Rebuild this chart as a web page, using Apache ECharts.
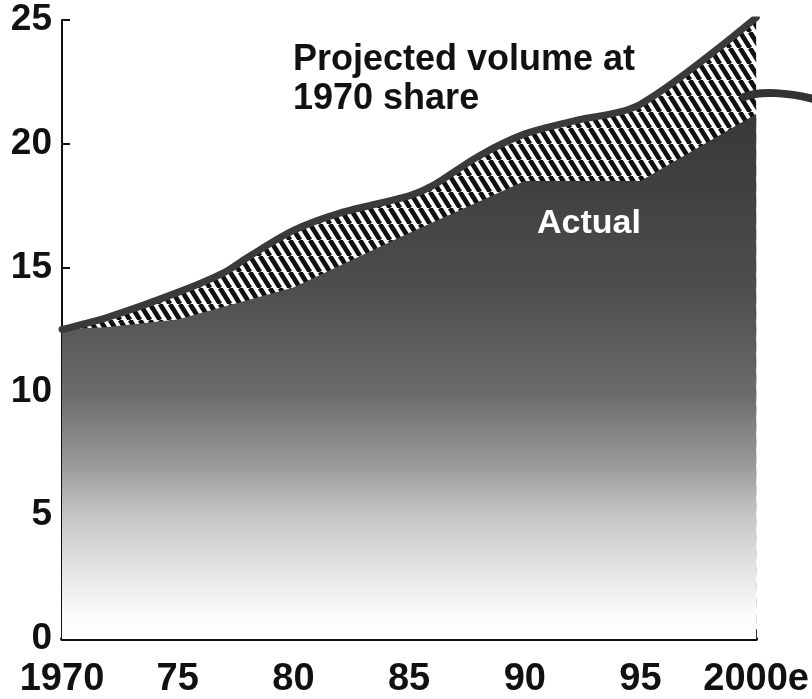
<!DOCTYPE html>
<html>
<head>
<meta charset="utf-8">
<script src="https://cdn.jsdelivr.net/npm/echarts@6/dist/echarts.min.js"></script>
<style>
html,body{margin:0;padding:0;background:#fff;}
#chart{width:812px;height:699px;}
</style>
</head>
<body>
<div id="chart"></div>
<script>
// ---- data ----
const projectedYears = [1970, 1972, 1975, 1977, 1978, 1980, 1982, 1985, 1986, 1988, 1990, 1992, 1995, 2000];
const projectedValues = [12.5, 13.0, 14.0, 14.8, 15.4, 16.5, 17.2, 17.9, 18.3, 19.5, 20.4, 20.9, 21.6, 25.1];
const actualYears = [1970, 1972, 1975, 1980, 1985, 1990, 1995, 2000];
const actualValues = [12.5, 12.6, 12.9, 14.2, 16.4, 18.5, 18.5, 21.2];
const xTickLabels = ['1970', '75', '80', '85', '90', '95', '2000e'];
const yTickLabels = ['0', '5', '10', '15', '20', '25'];
const annotationProjected = 'Projected volume at\n1970 share';
const annotationActual = 'Actual';

const FONT = '"Liberation Sans", Arial, Helvetica, sans-serif';

// hatch pattern
const pc = document.createElement('canvas');
pc.width = 10; pc.height = 16;
const pctx = pc.getContext('2d');
pctx.fillStyle = '#ffffff';
pctx.fillRect(0, 0, 10, 16);
pctx.strokeStyle = '#111111';
pctx.lineWidth = 4.8;
for (let k = -2; k <= 2; k++) {
  pctx.beginPath();
  pctx.moveTo(k * 10, 0);
  pctx.lineTo(k * 10 + 10, 16);
  pctx.stroke();
}

const projData = projectedYears.map((y, i) => [y, projectedValues[i]]);
const actData = actualYears.map((y, i) => [y, actualValues[i]]);

const chart = echarts.init(document.getElementById('chart'), null, {renderer: 'canvas'});
chart.setOption({
  animation: false,
  backgroundColor: '#ffffff',
  grid: {left: 62, right: 51, top: 20, bottom: 60, containLabel: false},
  xAxis: {
    type: 'value', min: 1970, max: 2000, interval: 5,
    axisLine: {show: true, onZero: false, lineStyle: {color: '#111', width: 4}},
    axisTick: {show: true, inside: true, length: 10, lineStyle: {color: '#111', width: 2}},
    splitLine: {show: false},
    axisLabel: {
      show: true, margin: 22, showMinLabel: true, showMaxLabel: true,
      color: '#111', fontFamily: FONT, fontWeight: 'bold', fontSize: 38,
      formatter: v => xTickLabels[Math.round((v - 1970) / 5)]
    }
  },
  yAxis: {
    type: 'value', min: 0, max: 25, interval: 5,
    axisLine: {show: true, lineStyle: {color: '#111', width: 2}},
    axisTick: {show: true, inside: true, length: 8, lineStyle: {color: '#111', width: 2}},
    splitLine: {show: false},
    axisLabel: {
      show: true, margin: 10, showMinLabel: true, showMaxLabel: true,
      color: '#111', fontFamily: FONT, fontWeight: 'bold', fontSize: 37,
      formatter: v => yTickLabels[Math.round(v / 5)]
    }
  },
  series: [
    {
      name: 'Projected area', type: 'line', data: projData, z: 1,
      symbol: 'none', smooth: 0.3,
      lineStyle: {width: 0, opacity: 0},
      areaStyle: {color: {image: pc, repeat: 'repeat'}, opacity: 1}
    },
    {
      name: 'Actual', type: 'line', data: actData, z: 2,
      symbol: 'none', smooth: false,
      lineStyle: {width: 0, opacity: 0},
      areaStyle: {
        opacity: 1,
        color: new echarts.graphic.LinearGradient(0, 0, 0, 1, [
          {offset: 0, color: '#383838'},
          {offset: 0.15, color: '#414141'},
          {offset: 0.34, color: '#4e4e4e'},
          {offset: 0.53, color: '#6a6a6a'},
          {offset: 0.67, color: '#9a9a9a'},
          {offset: 0.76, color: '#c4c4c4'},
          {offset: 0.86, color: '#e2e2e2'},
          {offset: 0.95, color: '#fafafa'},
          {offset: 1, color: '#ffffff'}
        ])
      }
    },
    {
      name: 'Projected line', type: 'line', data: projData, z: 3,
      symbol: 'none', smooth: 0.3,
      lineStyle: {width: 7, color: '#3a3a3a', cap: 'round', join: 'round'}
    }
  ],
  graphic: [
    {
      type: 'text', left: 293, top: 41, z: 10,
      style: {text: annotationProjected, fill: '#111', font: 'bold 36px ' + FONT, lineHeight: 39}
    },
    {
      type: 'text', left: 537, top: 207, z: 10,
      style: {text: annotationActual, fill: '#ffffff', font: 'bold 34px ' + FONT}
    },
    {
      type: 'bezierCurve', z: 10,
      shape: {x1: 744, y1: 97, cpx1: 760, cpy1: 90, cpx2: 790, cpy2: 93, x2: 814, y2: 99},
      style: {stroke: '#333', lineWidth: 8, fill: null, lineCap: 'round'}
    }
  ]
});
</script>
</body>
</html>
